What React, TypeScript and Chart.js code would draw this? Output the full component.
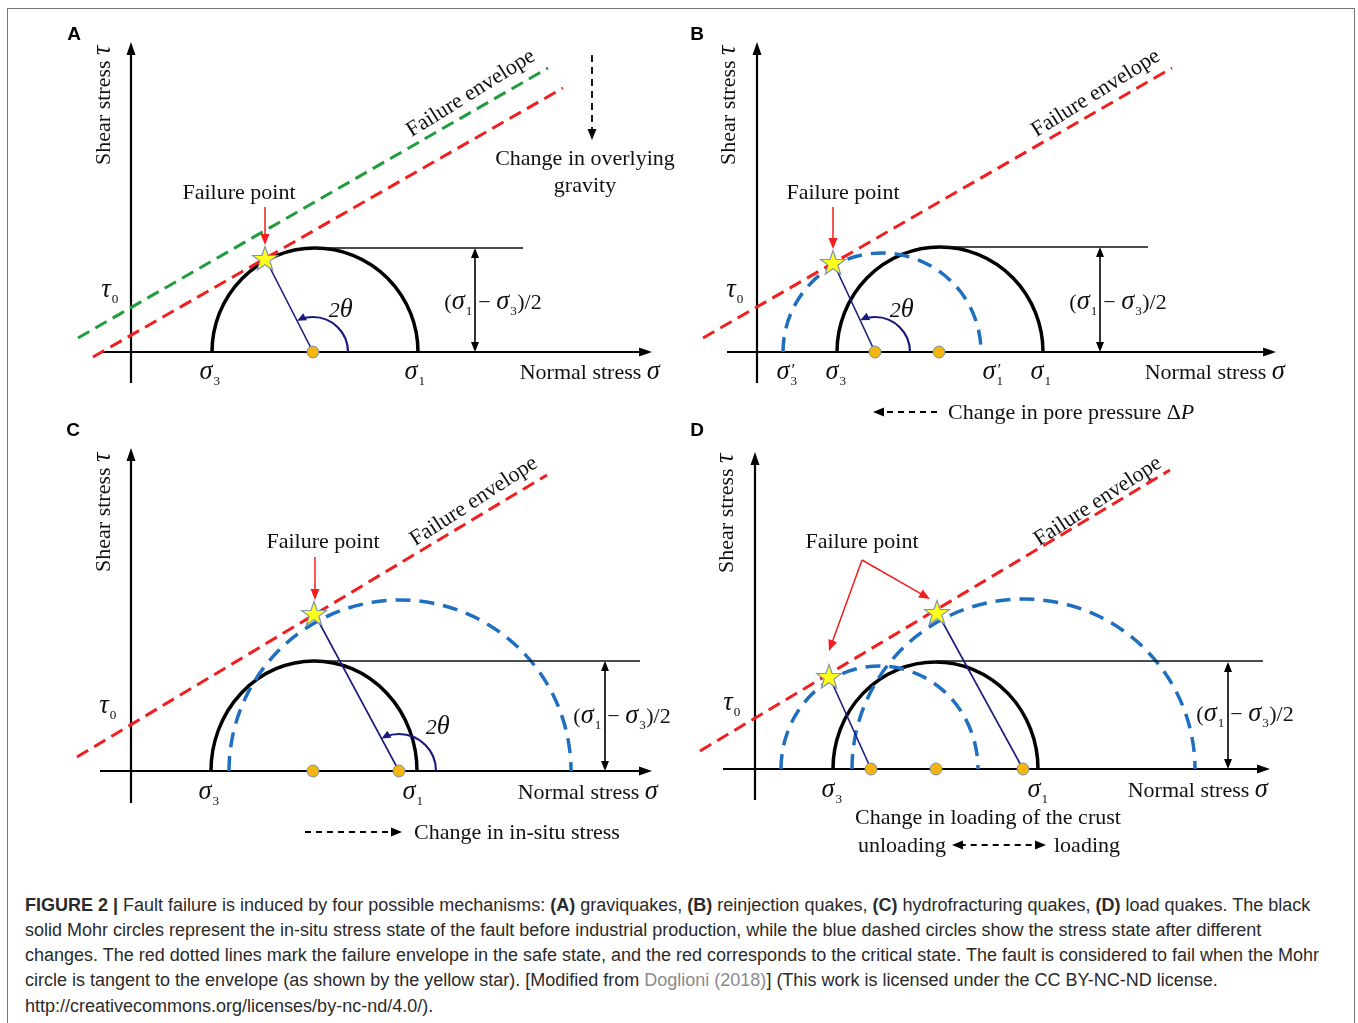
import React, { useEffect, useRef } from 'react';
import { Chart, registerables } from 'chart.js';
Chart.register(...registerables);

type Pt = { x: number; y: number };

// ---------- Panel A : graviquakes ----------
const A_solid = [8.1, 28.7, 10.4]; // sigma3, sigma1, tau max
const A_centers = [18.2];
const A_envSafe: Pt[] = [{ x: -5.3, y: 1.4 }, { x: 41.7, y: 28.4 }];
const A_envCrit: Pt[] = [{ x: -3.8, y: -0.5 }, { x: 43.2, y: 26.4 }];
const A_stars: Pt[] = [{ x: 13.4, y: 9.4 }];
const A_topLine: Pt[] = [{ x: 18.4, y: 10.4 }, { x: 39.2, y: 10.4 }];

// ---------- Panel B : reinjection quakes ----------
const B_solid = [8.0, 28.6, 10.5];
const B_dashed = [2.6, 22.4, 9.9];
const B_centers = [11.8, 18.2];
const B_envCrit: Pt[] = [{ x: -5.4, y: 1.4 }, { x: 41.5, y: 28.4 }];
const B_stars: Pt[] = [{ x: 7.6, y: 9.0 }];
const B_topLine: Pt[] = [{ x: 18.3, y: 10.5 }, { x: 39.1, y: 10.5 }];

// ---------- Panel C : hydrofracturing quakes ----------
const C_solid = [8.0, 28.6, 11.0];
const C_dashed = [9.8, 44.0, 17.1];
const C_centers = [18.2, 26.8];
const C_envCrit: Pt[] = [{ x: -5.4, y: 1.4 }, { x: 41.6, y: 29.6 }];
const C_stars: Pt[] = [{ x: 18.3, y: 15.8 }];
const C_topLine: Pt[] = [{ x: 18.3, y: 11.0 }, { x: 50.9, y: 11.0 }];

// ---------- Panel D : load quakes ----------
const D_solid = [7.8, 28.3, 10.7];
const D_dashedSmall = [2.6, 22.3, 10.3];
const D_dashedLarge = [9.7, 44.0, 17.0];
const D_centers = [11.6, 18.1, 26.8];
const D_envCrit: Pt[] = [{ x: -5.5, y: 1.8 }, { x: 41.5, y: 29.9 }];
const D_stars: Pt[] = [{ x: 7.4, y: 9.3 }, { x: 18.2, y: 15.7 }];
const D_topLine: Pt[] = [{ x: 18.1, y: 10.8 }, { x: 50.8, y: 10.8 }];

const RED = '#f21d1d';
const GREEN = '#1f9d3c';
const BLUE = '#1f6fc0';
const NAVY = '#1a1a7e';
const SERIF = '"Liberation Serif", "Times New Roman", serif';
const SANS = '"Liberation Sans", Arial, sans-serif';
const FS = 22;
const U = 10; // px per unit
const DEG = Math.PI / 180;

type Circle = { v: number[]; dashed: boolean };
type Label = { s: string; x: number; y: number; align?: 'left' | 'center' | 'right'; rot?: number };
type ArrowSpec = { from: Pt; to: Pt; color?: string; dash?: number[]; both?: boolean; width?: number };
type PanelCfg = {
  left: number; top: number; w: number; h: number; ox: number; oy: number;
  xAxis: number[]; yAxis: number[];
  circles: Circle[];
  envelopes: { pts: Pt[]; color: string }[];
  centers: number[];
  stars: Pt[];
  radii: { from: number; to: Pt }[];
  arcs: { c: number; r: number; to: Pt }[];
  topLine: Pt[];
  half: { x: number; h: number };
  arrows: ArrowSpec[];
  labels: Label[];
  letter: { t: string; x: number; y: number };
};

const HALF = '(*σ*_1 − *σ*_3)/2';

const PANELS: PanelCfg[] = [
  {
    left: 20, top: 15, w: 660, h: 405, ox: 131, oy: 352,
    xAxis: [-3.1, 52.1], yAxis: [-3.1, 31.0],
    circles: [{ v: A_solid, dashed: false }],
    envelopes: [{ pts: A_envSafe, color: GREEN }, { pts: A_envCrit, color: RED }],
    centers: A_centers,
    stars: A_stars,
    radii: [{ from: A_centers[0], to: A_stars[0] }],
    arcs: [{ c: A_centers[0], r: 3.5, to: A_stars[0] }],
    topLine: A_topLine,
    half: { x: 34.4, h: A_solid[2] },
    arrows: [
      { from: { x: 13.4, y: 14.5 }, to: { x: 13.4, y: 10.7 }, color: RED },
      { from: { x: 46.1, y: 29.7 }, to: { x: 46.1, y: 21.2 }, dash: [7, 5] },
    ],
    labels: [
      { s: 'Shear stress *τ*', x: -2.8, y: 24.7, rot: -90 * DEG },
      { s: '*τ*_0', x: -2.1, y: 6.2 },
      { s: 'Failure point', x: 10.8, y: 16.0 },
      { s: 'Failure envelope', x: 33.9, y: 26.0, rot: -32 * DEG },
      { s: 'Change in overlying', x: 45.4, y: 19.4 },
      { s: 'gravity', x: 45.4, y: 16.7 },
      { s: '*2θ*', x: 21.0, y: 4.2 },
      { s: HALF, x: 36.2, y: 5.0 },
      { s: '*σ*_3', x: 7.9, y: -2.0 },
      { s: '*σ*_1', x: 28.4, y: -2.0 },
      { s: 'Normal stress *σ*', x: 45.9, y: -2.0 },
    ],
    letter: { t: 'A', x: -5.7, y: 31.7 },
  },
  {
    left: 680, top: 15, w: 670, h: 410, ox: 757, oy: 352,
    xAxis: [-3.0, 51.9], yAxis: [-3.1, 31.0],
    circles: [{ v: B_solid, dashed: false }, { v: B_dashed, dashed: true }],
    envelopes: [{ pts: B_envCrit, color: RED }],
    centers: B_centers,
    stars: B_stars,
    radii: [{ from: B_centers[0], to: B_stars[0] }],
    arcs: [{ c: B_centers[0], r: 3.5, to: B_stars[0] }],
    topLine: B_topLine,
    half: { x: 34.3, h: B_solid[2] },
    arrows: [
      { from: { x: 7.6, y: 14.5 }, to: { x: 7.6, y: 10.3 }, color: RED },
      { from: { x: 18.0, y: -6.0 }, to: { x: 11.6, y: -6.0 }, dash: [6, 5] },
    ],
    labels: [
      { s: 'Shear stress *τ*', x: -2.9, y: 24.7, rot: -90 * DEG },
      { s: '*τ*_0', x: -2.2, y: 6.2 },
      { s: 'Failure point', x: 8.6, y: 16.0 },
      { s: 'Failure envelope', x: 33.8, y: 26.0, rot: -32 * DEG },
      { s: '*2θ*', x: 14.5, y: 4.2 },
      { s: HALF, x: 36.1, y: 5.0 },
      { s: '*σ*^′_3', x: 3.0, y: -2.0 },
      { s: '*σ*_3', x: 7.9, y: -2.0 },
      { s: '*σ*^′_1', x: 23.6, y: -2.0 },
      { s: '*σ*_1', x: 28.4, y: -2.0 },
      { s: 'Normal stress *σ*', x: 45.8, y: -2.0 },
      { s: 'Change in pore pressure Δ*P*', x: 19.1, y: -6.0, align: 'left' },
    ],
    letter: { t: 'B', x: -6.0, y: 31.7 },
  },
  {
    left: 20, top: 420, w: 660, h: 440, ox: 131, oy: 771,
    xAxis: [-3.1, 52.1], yAxis: [-3.2, 32.3],
    circles: [{ v: C_solid, dashed: false }, { v: C_dashed, dashed: true }],
    envelopes: [{ pts: C_envCrit, color: RED }],
    centers: C_centers,
    stars: C_stars,
    radii: [{ from: C_centers[1], to: C_stars[0] }],
    arcs: [{ c: C_centers[1], r: 3.7, to: C_stars[0] }],
    topLine: C_topLine,
    half: { x: 47.4, h: C_solid[2] },
    arrows: [
      { from: { x: 18.4, y: 21.4 }, to: { x: 18.4, y: 17.1 }, color: RED },
      { from: { x: 17.4, y: -6.1 }, to: { x: 27.1, y: -6.1 }, dash: [6, 5] },
    ],
    labels: [
      { s: 'Shear stress *τ*', x: -2.8, y: 25.9, rot: -90 * DEG },
      { s: '*τ*_0', x: -2.3, y: 6.5 },
      { s: 'Failure point', x: 19.2, y: 23.0 },
      { s: 'Failure envelope', x: 34.2, y: 27.1, rot: -33 * DEG },
      { s: '*2θ*', x: 30.7, y: 4.4 },
      { s: HALF, x: 49.1, y: 5.5 },
      { s: '*σ*_3', x: 7.8, y: -2.1 },
      { s: '*σ*_1', x: 28.2, y: -2.1 },
      { s: 'Normal stress *σ*', x: 45.7, y: -2.1 },
      { s: 'Change in in-situ stress', x: 28.3, y: -6.1, align: 'left' },
    ],
    letter: { t: 'C', x: -5.8, y: 34.0 },
  },
  {
    left: 680, top: 420, w: 670, h: 440, ox: 755, oy: 769,
    xAxis: [-3.2, 51.5], yAxis: [-3.1, 31.7],
    circles: [
      { v: D_solid, dashed: false },
      { v: D_dashedSmall, dashed: true },
      { v: D_dashedLarge, dashed: true },
    ],
    envelopes: [{ pts: D_envCrit, color: RED }],
    centers: D_centers,
    stars: D_stars,
    radii: [
      { from: D_centers[0], to: D_stars[0] },
      { from: D_centers[2], to: D_stars[1] },
    ],
    arcs: [],
    topLine: D_topLine,
    half: { x: 47.3, h: D_solid[2] },
    arrows: [
      { from: { x: 10.7, y: 20.9 }, to: { x: 7.4, y: 11.8 }, color: RED },
      { from: { x: 10.7, y: 20.9 }, to: { x: 17.5, y: 17.0 }, color: RED },
      { from: { x: 19.7, y: -7.6 }, to: { x: 29.1, y: -7.6 }, dash: [6, 5], both: true },
    ],
    labels: [
      { s: 'Shear stress *τ*', x: -2.9, y: 25.6, rot: -90 * DEG },
      { s: '*τ*_0', x: -2.3, y: 6.6 },
      { s: 'Failure point', x: 10.7, y: 22.8 },
      { s: 'Failure envelope', x: 34.2, y: 26.9, rot: -33 * DEG },
      { s: HALF, x: 49.0, y: 5.5 },
      { s: '*σ*_3', x: 7.7, y: -2.1 },
      { s: '*σ*_1', x: 28.3, y: -2.1 },
      { s: 'Normal stress *σ*', x: 44.3, y: -2.1 },
      { s: 'Change in loading of the crust', x: 23.3, y: -4.8 },
      { s: 'unloading', x: 14.7, y: -7.6 },
      { s: 'loading', x: 33.2, y: -7.6 },
    ],
    letter: { t: 'D', x: -5.8, y: 33.8 },
  },
];

// ---------- drawing helpers ----------
type Seg = { t: string; it: boolean; kind: 'n' | 'sub' | 'sup' | 'stack'; t2?: string; greek?: boolean };
const GREEK = /[\u0370-\u03FF]/;
function parseRich(s: string): Seg[] {
  const out: Seg[] = [];
  let it = false;
  let buf = '';
  const flush = () => {
    if (buf) { out.push({ t: buf, it, kind: 'n' }); buf = ''; }
  };
  for (let i = 0; i < s.length; i++) {
    const ch = s[i];
    if (ch === '*') { flush(); it = !it; }
    else if (ch === '_') { flush(); out.push({ t: s[i + 1], it: false, kind: 'sub' }); i++; }
    else if (ch === '^') {
      flush();
      if (s[i + 2] === '_') { out.push({ t: s[i + 1], it: false, kind: 'stack', t2: s[i + 3] }); i += 3; }
      else { out.push({ t: s[i + 1], it: false, kind: 'sup' }); i++; }
    } else if (GREEK.test(ch) && ch !== 'Δ') {
      flush();
      out.push({ t: ch, it, kind: 'n', greek: true });
    } else buf += ch;
  }
  flush();
  return out;
}

function drawRich(ctx: CanvasRenderingContext2D, s: string, x: number, y: number, size: number,
  align: 'left' | 'center' | 'right' = 'center', rot = 0, color = '#111') {
  const segs = parseRich(s);
  const fnt = (it: boolean, sz: number) => `${it ? 'italic ' : ''}${sz}px ${SERIF}`;
  const subSz = size * 0.6;
  const primeSz = size * 0.8;
  const gSz = size * 1.2;
  const widths = segs.map((sg) => {
    if (sg.kind === 'n') { ctx.font = fnt(sg.it, sg.greek ? gSz : size); return ctx.measureText(sg.t).width + (sg.greek ? 0.5 : 0); }
    if (sg.kind === 'stack') {
      ctx.font = fnt(false, primeSz);
      const a = ctx.measureText(sg.t).width;
      ctx.font = fnt(false, subSz);
      return Math.max(a, ctx.measureText(sg.t2 || '').width) + 1;
    }
    ctx.font = fnt(false, subSz);
    return ctx.measureText(sg.t).width + 1;
  });
  const total = widths.reduce((a, b) => a + b, 0);
  ctx.save();
  ctx.translate(x, y);
  ctx.rotate(rot);
  ctx.fillStyle = color;
  ctx.textBaseline = 'alphabetic';
  ctx.textAlign = 'left';
  let cx = align === 'center' ? -total / 2 : align === 'right' ? -total : 0;
  const base = size * 0.34;
  segs.forEach((sg, i) => {
    if (sg.kind === 'n') { ctx.font = fnt(sg.it, sg.greek ? gSz : size); ctx.fillText(sg.t, cx, base); }
    else if (sg.kind === 'sub') { ctx.font = fnt(false, subSz); ctx.fillText(sg.t, cx + 0.5, base + size * 0.26); }
    else if (sg.kind === 'sup') { ctx.font = fnt(false, subSz); ctx.fillText(sg.t, cx + 0.5, base - size * 0.42); }
    else {
      ctx.font = fnt(false, primeSz); ctx.fillText(sg.t, cx + 1.5, base - size * 0.2);
      ctx.font = fnt(false, subSz); ctx.fillText(sg.t2 || '', cx + 0.5, base + size * 0.26);
    }
    cx += widths[i];
  });
  ctx.restore();
}

function arrowHead(ctx: CanvasRenderingContext2D, x: number, y: number, ang: number, len: number, hw: number, color: string) {
  ctx.save();
  ctx.fillStyle = color;
  ctx.beginPath();
  ctx.moveTo(x, y);
  const bx = x - len * Math.cos(ang), by = y - len * Math.sin(ang);
  ctx.lineTo(bx + hw * Math.sin(ang), by - hw * Math.cos(ang));
  ctx.lineTo(bx - hw * Math.sin(ang), by + hw * Math.cos(ang));
  ctx.closePath();
  ctx.fill();
  ctx.restore();
}

function arrow(ctx: CanvasRenderingContext2D, x1: number, y1: number, x2: number, y2: number,
  o: { color?: string; width?: number; dash?: number[]; len?: number; hw?: number; both?: boolean } = {}) {
  const color = o.color || '#000';
  const len = o.len ?? 10, hw = o.hw ?? 4;
  const ang = Math.atan2(y2 - y1, x2 - x1);
  const c = Math.cos(ang), s = Math.sin(ang);
  ctx.save();
  ctx.strokeStyle = color;
  ctx.lineWidth = o.width ?? 1.5;
  ctx.setLineDash(o.dash || []);
  ctx.beginPath();
  const sx = o.both ? x1 + len * 0.7 * c : x1, sy = o.both ? y1 + len * 0.7 * s : y1;
  ctx.moveTo(sx, sy);
  ctx.lineTo(x2 - len * 0.7 * c, y2 - len * 0.7 * s);
  ctx.stroke();
  ctx.restore();
  arrowHead(ctx, x2, y2, ang, len, hw, color);
  if (o.both) arrowHead(ctx, x1, y1, ang + Math.PI, len, hw, color);
}

function makeStar(): HTMLCanvasElement {
  const R = 13, r = 5.2;
  const c = document.createElement('canvas');
  const s = 32;
  c.width = s; c.height = s;
  const g = c.getContext('2d')!;
  g.translate(s / 2, s / 2 + 1.5);
  g.beginPath();
  for (let i = 0; i < 10; i++) {
    const rad = i % 2 ? r : R;
    const a = -Math.PI / 2 + (i * Math.PI) / 5;
    g.lineTo(rad * Math.cos(a), rad * Math.sin(a));
  }
  g.closePath();
  g.fillStyle = '#ffff1a';
  g.fill();
  g.strokeStyle = '#8096ae';
  g.lineWidth = 1.2;
  g.stroke();
  return c;
}

function PanelChart({ cfg }: { cfg: PanelCfg }) {
  const ref = useRef<HTMLCanvasElement>(null);
  useEffect(() => {
    const canvas = ref.current!;
    const star = makeStar();
    const datasets: any[] = [];
    datasets.push({
      data: cfg.stars, pointStyle: star, pointRadius: 12, showLine: false, order: 0,
    });
    datasets.push({
      data: cfg.centers.map((c) => ({ x: c, y: 0 })), pointRadius: 6, pointStyle: 'circle',
      pointBackgroundColor: '#f5b40f', pointBorderColor: '#7191b3', pointBorderWidth: 1,
      showLine: false, order: 1,
    });
    cfg.radii.forEach((r) => datasets.push({
      data: [{ x: r.from, y: 0 }, r.to], showLine: true, borderColor: NAVY, borderWidth: 1.6,
      pointRadius: 0, order: 2,
    }));
    cfg.envelopes.forEach((e) => datasets.push({
      data: e.pts, showLine: true, borderColor: e.color, borderWidth: 3, borderDash: [13, 7],
      pointRadius: 0, order: 3,
    }));
    datasets.push({
      data: cfg.topLine, showLine: true, borderColor: '#111', borderWidth: 1.6, pointRadius: 0, order: 4,
    });

    const plugin = {
      id: 'mohr',
      beforeDatasetsDraw(chart: any) {
        const ctx: CanvasRenderingContext2D = chart.ctx;
        const X = (v: number) => chart.scales.x.getPixelForValue(v);
        const Y = (v: number) => chart.scales.y.getPixelForValue(v);
        // axes
        ctx.save();
        ctx.strokeStyle = '#000';
        ctx.lineWidth = 2.2;
        ctx.beginPath();
        ctx.moveTo(X(cfg.xAxis[0]), Y(0));
        ctx.lineTo(X(cfg.xAxis[1]) - 8, Y(0));
        ctx.moveTo(X(0), Y(cfg.yAxis[0]));
        ctx.lineTo(X(0), Y(cfg.yAxis[1]) + 8);
        ctx.stroke();
        ctx.restore();
        arrowHead(ctx, X(cfg.xAxis[1]), Y(0), 0, 13, 4.5, '#000');
        arrowHead(ctx, X(0), Y(cfg.yAxis[1]), -Math.PI / 2, 13, 4.5, '#000');
        // circles
        cfg.circles.forEach((c) => {
          const [s3, s1, hh] = c.v;
          const cx = X((s3 + s1) / 2), cy = Y(0);
          const rx = X(s1) - cx, ry = cy - Y(hh);
          ctx.save();
          ctx.beginPath();
          ctx.ellipse(cx, cy, rx, ry, 0, Math.PI, 2 * Math.PI);
          ctx.lineWidth = 3.5;
          ctx.strokeStyle = c.dashed ? BLUE : '#000';
          ctx.setLineDash(c.dashed ? [15, 9] : []);
          ctx.stroke();
          ctx.restore();
        });
        // half-difference arrow
        arrow(ctx, X(cfg.half.x), Y(0), X(cfg.half.x), Y(cfg.half.h), { both: true, len: 10, hw: 4, width: 1.6 });
      },
      afterDatasetsDraw(chart: any) {
        const ctx: CanvasRenderingContext2D = chart.ctx;
        const X = (v: number) => chart.scales.x.getPixelForValue(v);
        const Y = (v: number) => chart.scales.y.getPixelForValue(v);
        // angle arcs
        cfg.arcs.forEach((a) => {
          const cx = X(a.c), cy = Y(0);
          const R = X(a.c + a.r) - cx;
          const tx = X(a.to.x) - cx, ty = cy - Y(a.to.y);
          const phi = Math.atan2(ty, tx);
          const phiEnd = phi - 0.12;
          ctx.save();
          ctx.strokeStyle = NAVY;
          ctx.lineWidth = 2.2;
          ctx.beginPath();
          ctx.arc(cx, cy, R, 0, -phiEnd, true);
          ctx.stroke();
          ctx.restore();
          const hx = cx + R * Math.cos(phi), hy = cy - R * Math.sin(phi);
          const ang = Math.atan2(-Math.cos(phi), -Math.sin(phi));
          arrowHead(ctx, hx, hy, ang, 9, 4, NAVY);
        });
        cfg.arrows.forEach((a) => {
          arrow(ctx, X(a.from.x), Y(a.from.y), X(a.to.x), Y(a.to.y), {
            color: a.color || '#000', dash: a.dash, both: a.both,
            width: a.color ? 1.5 : 1.8, len: 11, hw: 4.5,
          });
        });
        cfg.labels.forEach((l) => drawRich(ctx, l.s, X(l.x), Y(l.y), FS, l.align || 'center', l.rot || 0));
        ctx.save();
        ctx.font = `bold 19px ${SANS}`;
        ctx.fillStyle = '#000';
        ctx.textAlign = 'center';
        ctx.textBaseline = 'middle';
        ctx.fillText(cfg.letter.t, X(cfg.letter.x), Y(cfg.letter.y));
        ctx.restore();
      },
    };

    const chart = new Chart(canvas, {
      type: 'scatter',
      data: { datasets },
      options: {
        animation: false,
        responsive: false,
        maintainAspectRatio: false,
        events: [],
        layout: { padding: 0, autoPadding: false },
        plugins: { legend: { display: false }, tooltip: { enabled: false } },
        scales: {
          x: { type: 'linear', display: false, min: (0 - (cfg.ox - cfg.left)) / U, max: (cfg.w - (cfg.ox - cfg.left)) / U },
          y: { type: 'linear', display: false, min: -(cfg.top + cfg.h - cfg.oy) / U, max: (cfg.oy - cfg.top) / U },
        },
      },
      plugins: [plugin],
    } as any);
    return () => chart.destroy();
  }, [cfg]);
  return (
    <canvas
      ref={ref}
      width={cfg.w}
      height={cfg.h}
      style={{ position: 'absolute', left: cfg.left, top: cfg.top, width: cfg.w, height: cfg.h }}
    />
  );
}

const CAPTION_LINES: React.ReactNode[] = [
  <><b>FIGURE 2 |</b> Fault failure is induced by four possible mechanisms: <b>(A)</b> graviquakes, <b>(B)</b> reinjection quakes, <b>(C)</b> hydrofracturing quakes, <b>(D)</b> load quakes. The black</>,
  <>solid Mohr circles represent the in-situ stress state of the fault before industrial production, while the blue dashed circles show the stress state after different</>,
  <>changes. The red dotted lines mark the failure envelope in the safe state, and the red corresponds to the critical state. The fault is considered to fail when the Mohr</>,
  <>circle is tangent to the envelope (as shown by the yellow star). [Modified from <span style={{ color: '#8a8a8a' }}>Doglioni (2018)</span>] (This work is licensed under the CC BY-NC-ND license.</>,
  <>http://creativecommons.org/licenses/by-nc-nd/4.0/).</>,
];

export default function App() {
  return (
    <div style={{ position: 'fixed', left: 0, top: 0, width: 1358, height: 1023, background: '#fff', overflow: 'hidden' }}>
      <div style={{ position: 'absolute', left: 7, top: 8, width: 1348, height: 1040, border: '1.5px solid #777', boxSizing: 'border-box' }} />
      {PANELS.map((p, i) => <PanelChart key={i} cfg={p} />)}
      {CAPTION_LINES.map((l, i) => (
        <div key={i} style={{
          position: 'absolute', left: 25, top: 892.5 + i * 25.3, height: 25, lineHeight: '25px',
          fontFamily: SANS, fontSize: 18, color: '#2a2a2a', whiteSpace: 'nowrap',
        }}>{l}</div>
      ))}
    </div>
  );
}
